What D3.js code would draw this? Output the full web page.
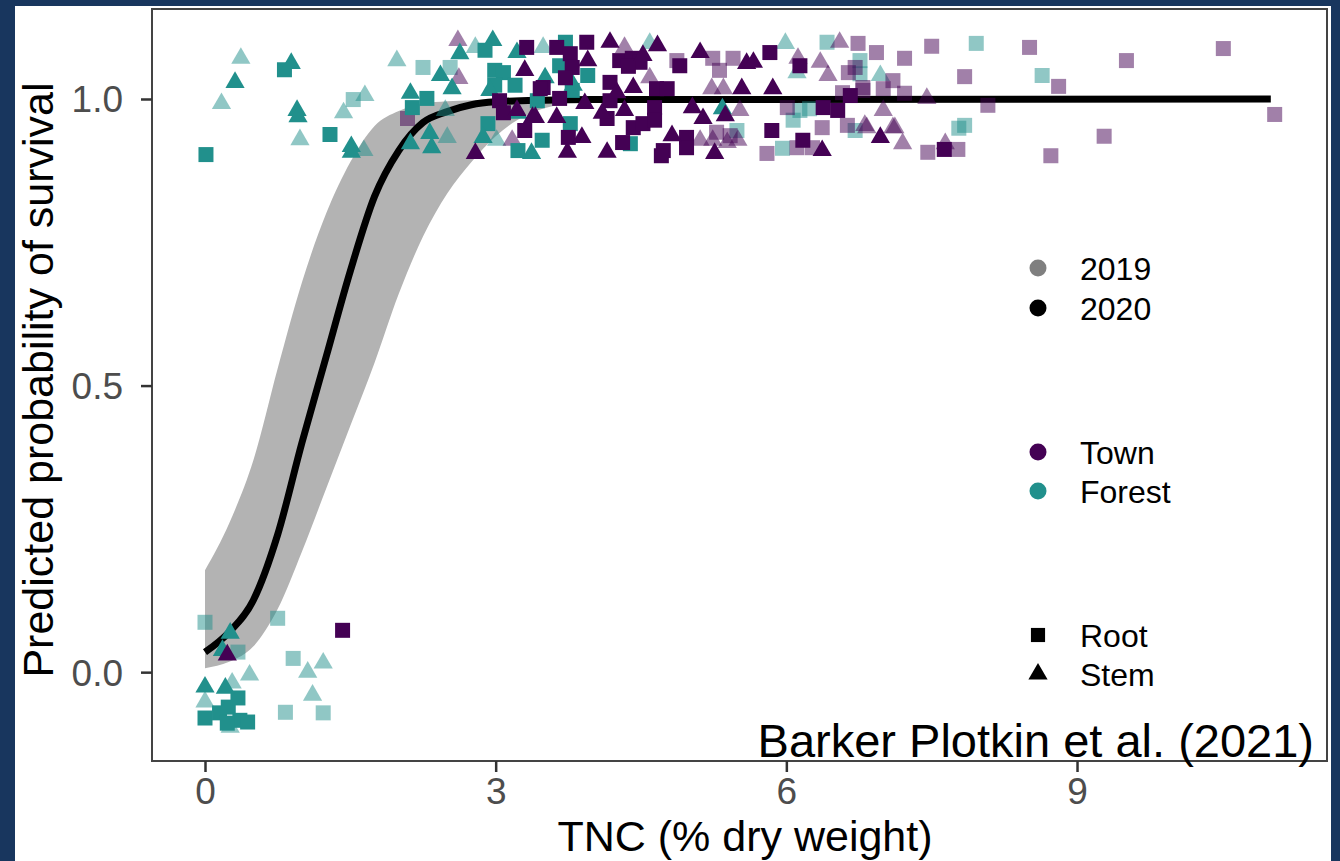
<!DOCTYPE html>
<html>
<head>
<meta charset="utf-8">
<script src="https://cdn.jsdelivr.net/npm/d3@7"></script>
<style>
  body { margin: 0; background: #18365e; }
  svg { display: block; font-family: "Liberation Sans", Arial, sans-serif; }
</style>
</head>
<body>
<svg id="chart" width="1340" height="861"></svg>
<script>
// fitted curve + confidence band
var fitX   = [0, 0.25, 0.5, 0.75, 1, 1.25, 1.5, 1.75, 2, 2.25, 2.5, 2.75, 3, 3.5, 4, 11];
var fitP   = [0.035, 0.07, 0.126, 0.24, 0.40, 0.55, 0.70, 0.83, 0.91, 0.959, 0.978, 0.99, 0.995, 0.998, 0.999, 1.0];
var bandLo = [0.007, 0.018, 0.045, 0.11, 0.21, 0.32, 0.43, 0.54, 0.66, 0.76, 0.835, 0.89, 0.935, 0.984, 0.996, 0.999];
var bandHi = [0.178, 0.26, 0.37, 0.53, 0.68, 0.80, 0.89, 0.953, 0.979, 0.992, 0.996, 0.998, 0.999, 1.0, 1.0, 1.0];

// jittered observations [TNC, survival]
var townRoot2020 = [[1.42,0.073],[3.04,0.997],[3.08,0.976],[3.30,0.945],[3.32,1.090],[3.49,1.020],[3.63,1.090],
  [3.94,1.099],[4.28,1.067],[4.41,1.071],[4.49,1.064],[4.37,1.057],[3.77,1.079],[3.79,1.055],[3.72,1.037],
  [3.46,1.018],[3.66,1.001],[4.18,1.029],[4.66,1.018],[4.77,1.018],[4.90,1.058],[5.83,1.081],[6.14,1.058],
  [6.66,1.006],[3.75,0.933],[4.18,0.997],[4.15,0.966],[4.31,0.924],[4.42,0.950],[4.52,0.957],[4.64,0.985],
  [4.64,0.963],[4.73,0.910],[4.71,0.901],[4.97,0.933],[4.97,0.915],[5.85,0.945],[6.17,0.928],[6.38,0.985],
  [6.53,0.980],[7.63,0.912]];
var townRoot2019 = [[2.09,0.966],[4.87,1.067],[5.24,1.071],[5.31,1.050],[5.45,1.071],[6.74,1.097],[6.93,1.081],
  [6.71,1.055],[6.64,1.046],[7.10,1.032],[7.22,1.071],[7.50,1.092],[8.51,1.090],[9.51,1.067],[10.51,1.088],
  [7.00,1.018],[7.22,1.010],[6.79,1.015],[7.84,1.039],[8.81,1.022],[8.08,0.989],[11.04,0.973],[7.46,0.907],
  [7.77,0.912],[9.28,0.935],[8.73,0.901],[5.28,0.942],[5.42,0.936],[5.80,0.905],[6.01,0.985],[6.11,0.915],
  [6.27,0.915],[6.37,0.950],[6.63,0.954],[6.58,1.011],[6.79,1.020]];
var townStem2020 = [[0.23,0.030],[2.79,0.905],[3.38,0.968],[3.30,1.050],[4.18,1.099],[4.67,1.093],[4.52,1.076],
  [3.95,1.067],[4.25,1.011],[4.42,1.020],[5.11,1.081],[5.59,1.062],[5.66,1.064],[5.54,1.018],[5.86,1.018],
  [3.22,0.980],[3.41,0.968],[3.63,0.968],[3.74,0.907],[3.89,0.933],[4.15,0.907],[3.92,0.992],[4.10,0.975],
  [4.33,0.980],[4.82,0.936],[5.03,0.985],[5.14,0.966],[5.37,0.971],[5.26,0.905],[6.37,0.910],[6.97,0.933]];
var townStem2019 = [[2.61,1.102],[2.62,1.036],[3.17,0.928],[4.33,1.090],[4.59,1.037],[6.12,1.071],[6.35,1.064],
  [6.43,1.041],[6.55,1.099],[5.23,1.018],[5.35,1.018],[5.11,0.928],[5.24,0.928],[5.39,0.924],[5.50,0.928],
  [5.52,0.980],[6.81,0.954],[7.00,0.980],[7.10,0.950],[7.45,1.001],[6.83,0.950],[7.12,0.950],[7.20,0.922],
  [7.64,0.922]];
var forestRoot2020 = [[0.01,0.903],[0.82,1.051],[1.29,0.938],[2.29,1.001],[2.14,0.985],[2.92,0.957],[3.23,0.910],
  [2.89,1.085],[2.99,1.050],[3.08,1.046],[3.20,1.024],[2.99,1.024],[3.43,0.997],[3.48,0.928],[3.72,1.099],
  [3.95,1.041],[3.66,1.058],[3.79,1.015],[3.77,0.957],[4.39,0.922],
  [0,-0.080],[0.15,-0.071],[0.24,-0.061],[0.34,-0.045],[0.36,-0.084],[0.44,-0.087],[0.23,-0.089]];
var forestRoot2019 = [[1.53,0.999],[2.25,1.055],[2.53,1.055],[6.42,1.099],[5.49,0.945],[5.96,0.914],[6.14,0.980],
  [6.24,0.983],[6.07,0.963],[6.71,0.945],[7.96,1.097],[8.64,1.041],[6.76,1.067],[6.76,1.044],[7.78,0.949],
  [7.84,0.954],[0,0.087],[0.75,0.094],[0.34,0.035],[0.91,0.024],[0.83,-0.070],[1.22,-0.071]];
var forestStem2020 = [[0.31,1.029],[0.89,1.062],[0.95,0.980],[0.96,0.969],[1.51,0.917],[1.51,0.907],[2.97,1.102],
  [2.63,1.079],[2.43,1.041],[2.55,1.018],[2.12,1.010],[2.32,0.940],[2.34,0.915],[2.12,0.922],[2.87,0.933],
  [3.37,0.905],[3.23,0.975],[3.22,1.081],[2.94,1.015],[3.51,1.037],[3.80,1.024],[5.34,0.983],
  [0.26,0.068],[0.18,0.038],[0,-0.026],[0.21,-0.028]];
var forestStem2019 = [[0.37,1.071],[0.17,0.992],[0.98,0.929],[1.65,1.006],[1.43,0.976],[1.64,0.910],[1.98,1.067],
  [2.79,1.090],[2.48,0.980],[2.50,0.933],[3.01,0.928],[3.49,1.090],[4.59,1.097],[5.99,1.097],[6.11,1.046],
  [6.97,1.041],[0.46,-0.005],[1.06,0.000],[1.22,0.016],[1.11,-0.040],[0,-0.052],[0.26,-0.096],[0.28,-0.019]];

var xTicks = [0, 3, 6, 9];
var yTicks = [0, 0.5, 1];

var siteColor = {Town: "#440154", Forest: "#21908c"};
var yearAlpha = {2019: 0.5, 2020: 1};

var groups = [
  {site: "Forest", year: 2019, tissue: "Root", pts: forestRoot2019},
  {site: "Forest", year: 2019, tissue: "Stem", pts: forestStem2019},
  {site: "Town",   year: 2019, tissue: "Root", pts: townRoot2019},
  {site: "Town",   year: 2019, tissue: "Stem", pts: townStem2019},
  {site: "Forest", year: 2020, tissue: "Root", pts: forestRoot2020},
  {site: "Forest", year: 2020, tissue: "Stem", pts: forestStem2020},
  {site: "Town",   year: 2020, tissue: "Root", pts: townRoot2020},
  {site: "Town",   year: 2020, tissue: "Stem", pts: townStem2020}
];

var svg = d3.select("#chart");

// white card on the navy slide
svg.append("rect").attr("x", 15).attr("y", 6).attr("width", 1316).attr("height", 855).attr("fill", "#fff");

var panel = {left: 152, top: 9, right: 1327, bottom: 761};

var x = d3.scaleLinear().domain([-0.547, 11.58]).range([panel.left, panel.right]);
var y = d3.scaleLinear().domain([-0.155, 1.157]).range([panel.bottom, panel.top]);

var plot = svg.append("g");

// confidence band
var bandData = fitX.map(function(v, i) { return {x: v, lo: bandLo[i], hi: bandHi[i]}; });
plot.append("path")
    .datum(bandData)
    .attr("fill", "#b3b3b3")
    .attr("d", d3.area()
        .curve(d3.curveMonotoneX)
        .x(function(d) { return x(d.x); })
        .y0(function(d) { return y(d.lo); })
        .y1(function(d) { return y(d.hi); }));

// fitted line
var fitData = fitX.map(function(v, i) { return {x: v, p: fitP[i]}; });
plot.append("path")
    .datum(fitData)
    .attr("fill", "none")
    .attr("stroke", "#000")
    .attr("stroke-width", 7)
    .attr("d", d3.line()
        .curve(d3.curveMonotoneX)
        .x(function(d) { return x(d.x); })
        .y(function(d) { return y(d.p); }));

var square = d3.symbol().type(d3.symbolSquare).size(225);
var triangle = d3.symbol().type(d3.symbolTriangle).size(160);

groups.forEach(function(g) {
    plot.append("g").selectAll("path")
        .data(g.pts)
        .enter().append("path")
        .attr("transform", function(d) { return "translate(" + x(d[0]) + "," + y(d[1]) + ")"; })
        .attr("d", g.tissue === "Root" ? square : triangle)
        .attr("fill", siteColor[g.site])
        .attr("fill-opacity", yearAlpha[g.year]);
});

// panel border
svg.append("rect")
    .attr("x", panel.left).attr("y", panel.top)
    .attr("width", panel.right - panel.left).attr("height", panel.bottom - panel.top)
    .attr("fill", "none").attr("stroke", "#444").attr("stroke-width", 2);

// axes
var xAxis = svg.append("g")
    .attr("transform", "translate(0," + panel.bottom + ")")
    .call(d3.axisBottom(x).tickValues(xTicks).tickSize(11).tickPadding(6));
var yAxis = svg.append("g")
    .attr("transform", "translate(" + panel.left + ",0)")
    .call(d3.axisLeft(y).tickValues(yTicks).tickFormat(d3.format(".1f")).tickSize(11).tickPadding(18));

[xAxis, yAxis].forEach(function(a) {
    a.select(".domain").remove();
    a.selectAll(".tick line").attr("stroke", "#333").attr("stroke-width", 2.5);
    a.selectAll(".tick text").attr("fill", "#4d4d4d").style("font-size", "37px")
        .style("font-family", "'Liberation Sans', Arial, sans-serif");
});
yAxis.selectAll(".tick text").attr("dy", "0.35em");

// axis titles
svg.append("text")
    .attr("x", 745).attr("y", 851)
    .attr("text-anchor", "middle")
    .style("font-size", "43px")
    .text("TNC (% dry weight)");

svg.append("text")
    .attr("transform", "translate(53,380) rotate(-90)")
    .attr("text-anchor", "middle")
    .style("font-size", "43px")
    .text("Predicted probability of survival");

// legends
var legX = 1038, legTextX = 1080;
var legItems = [
  {label: "2019", y: 268, shape: "circle", color: "#000", alpha: 0.5},
  {label: "2020", y: 308, shape: "circle", color: "#000", alpha: 1},
  {label: "Town", y: 452, shape: "circle", color: siteColor.Town, alpha: 1},
  {label: "Forest", y: 491, shape: "circle", color: siteColor.Forest, alpha: 1},
  {label: "Root", y: 635, shape: "square", color: "#000", alpha: 1},
  {label: "Stem", y: 674, shape: "triangle", color: "#000", alpha: 1}
];
var legSym = {
  circle: d3.symbol().type(d3.symbolCircle).size(227),
  square: d3.symbol().type(d3.symbolSquare).size(200),
  triangle: d3.symbol().type(d3.symbolTriangle).size(160)
};
var leg = svg.append("g").selectAll("g").data(legItems).enter().append("g");
leg.append("path")
    .attr("transform", function(d) { return "translate(" + legX + "," + d.y + ")"; })
    .attr("d", function(d) { return legSym[d.shape](); })
    .attr("fill", function(d) { return d.color; })
    .attr("fill-opacity", function(d) { return d.alpha; });
leg.append("text")
    .attr("x", legTextX).attr("y", function(d) { return d.y; })
    .attr("dy", "0.36em")
    .style("font-size", "32px")
    .text(function(d) { return d.label; });

// citation
svg.append("text")
    .attr("x", 1314).attr("y", 757)
    .attr("text-anchor", "end")
    .style("font-size", "47px")
    .text("Barker Plotkin et al. (2021)");
</script>
</body>
</html>
